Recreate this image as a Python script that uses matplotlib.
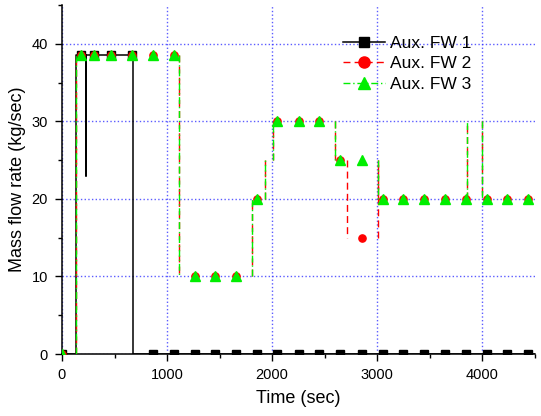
import numpy as np
import matplotlib.pyplot as plt
from matplotlib.lines import Line2D

plt.rcParams['font.family'] = ['Liberation Sans', 'DejaVu Sans']

# ---- step profiles (time where the value starts, value) ----
fw1_t = [0, 133, 228, 228, 671, 4500]
fw1_v = [0, 38.6, 23, 38.6, 0, 0]

fw2_t = [0, 133, 1114, 1811, 1928, 2007, 2599, 2713, 3005, 3012, 3853, 4001, 4500]
fw2_v = [0, 38.6, 10, 20, 25, 30, 25, 15, 25, 20, 30, 20, 20]

fw3_t = [0, 133, 1114, 1811, 1928, 2007, 2599, 3005, 3853, 4001, 4500]
fw3_v = [0, 38.6, 10, 20, 25, 30, 25, 20, 30, 20, 20]

# ---- symbol positions ----
mark_t = [0, 180, 304, 465, 662, 862, 1064, 1263, 1460, 1659, 1855, 2050,
          2255, 2450, 2648, 2852, 3051, 3250, 3447, 3645, 3845, 4043, 4238, 4437]
fw1_m = [0, 38.6, 38.6, 38.6, 38.6, 0, 0, 0, 0, 0, 0, 0,
         0, 0, 0, 0, 0, 0, 0, 0, 0, 0, 0, 0]
fw2_m = [0, 38.6, 38.6, 38.6, 38.6, 38.6, 38.6, 10, 10, 10, 20, 30,
         30, 30, 25, 15, 20, 20, 20, 20, 20, 20, 20, 20]
fw3_m = [0, 38.6, 38.6, 38.6, 38.6, 38.6, 38.6, 10, 10, 10, 20, 30,
         30, 30, 25, 25, 20, 20, 20, 20, 20, 20, 20, 20]

RED_LS = (0, (5, 3))
GRN_LS = (0, (5, 2, 1, 2))
GREEN = '#00ee00'

fig = plt.figure(figsize=(5.41, 4.16), dpi=100)
ax = fig.add_axes([0.1146, 0.149, 0.874, 0.839])

ax.grid(True, which='major', color='#3333ff', linestyle=':', linewidth=1, alpha=0.8)
ax.set_axisbelow(True)

ax.plot(fw1_t, fw1_v, drawstyle='steps-post', color='black', lw=1.1, zorder=3)

# the dashed traces only show their jumps in the original
def jumps(t, v):
    t, v = np.asarray(t), np.asarray(v)
    return t[1:], v[:-1], v[1:]

x, lo, hi = jumps(fw2_t, fw2_v)
ax.vlines(x, lo, hi, color='red', lw=1, linestyles=[RED_LS], zorder=4)
x, lo, hi = jumps(fw3_t, fw3_v)
ax.vlines(x, lo, hi, color=GREEN, lw=1, linestyles=[GRN_LS], zorder=5)

ax.plot(mark_t, fw1_m, 's', color='black', ms=5.5, zorder=6)
ax.plot(mark_t, fw2_m, 'o', color='red', ms=5.2, zorder=7)
ax.plot(mark_t, fw3_m, '^', color=GREEN, ms=7.5, zorder=8)

ax.set_xlim(0, 4500)
ax.set_ylim(0, 45)
ax.set_xticks([0, 1000, 2000, 3000, 4000])
ax.set_xticks([500, 1500, 2500, 3500, 4500], minor=True)
ax.set_yticks([0, 10, 20, 30, 40])
ax.set_yticks([5, 15, 25, 35, 45], minor=True)
ax.tick_params(which='major', direction='out', length=5, width=1, labelsize=10.5, pad=5)
ax.tick_params(which='minor', direction='out', length=3, width=1)
for s in ['top', 'right']:
    ax.spines[s].set_visible(False)
for s in ['left', 'bottom']:
    ax.spines[s].set_linewidth(1.1)

ax.set_xlabel('Time (sec)', fontsize=13, labelpad=6)
ax.set_ylabel('Mass flow rate (kg/sec)', fontsize=13, labelpad=4)

handles = [
    Line2D([], [], color='black', lw=1.1, marker='s', ms=7),
    Line2D([], [], color='red', lw=1, ls=RED_LS, marker='o', ms=8),
    Line2D([], [], color=GREEN, lw=1, ls=GRN_LS, marker='^', ms=9),
]
ax.legend(handles, ['Aux. FW 1', 'Aux. FW 2', 'Aux. FW 3'], loc='upper left',
          bbox_to_anchor=(0.594, 0.912), frameon=False, fontsize=12.5,
          borderpad=0, borderaxespad=0, handlelength=2.4, handletextpad=0.3,
          labelspacing=0.3)

fig.savefig('out.png', dpi=100)
